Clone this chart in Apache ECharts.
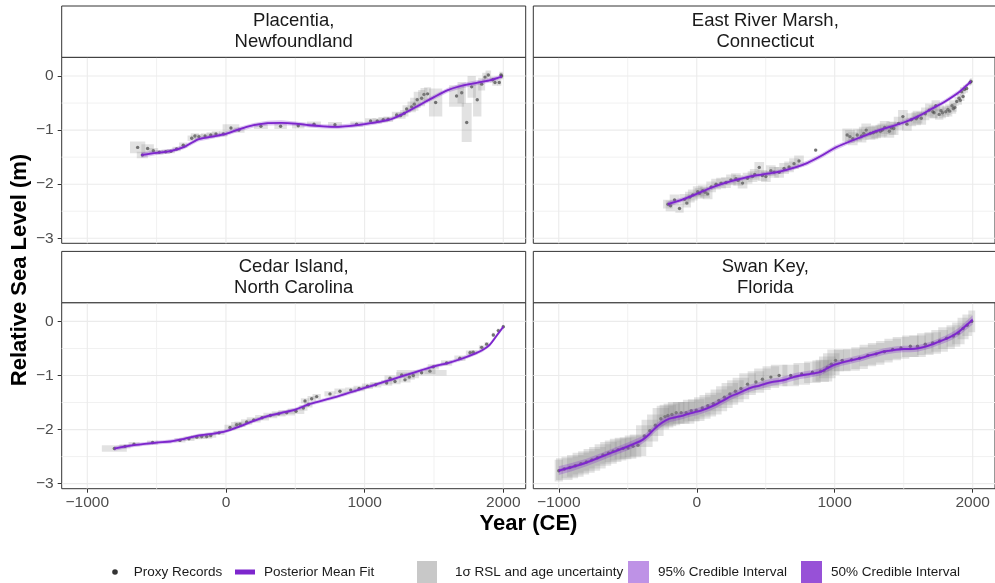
<!DOCTYPE html>
<html><head><meta charset="utf-8">
<script src="https://cdn.jsdelivr.net/npm/echarts@6/dist/echarts.min.js"></script>
<style>html,body{margin:0;padding:0;background:#fff}#c{width:995px;height:583px}</style>
</head><body><div id="c"></div><script>
// ---------------- data ----------------
const sites = ['Placentia,\nNewfoundland', 'East River Marsh,\nConnecticut', 'Cedar Island,\nNorth Carolina', 'Swan Key,\nFlorida'];
const xTicks = [-1000, 0, 1000, 2000];
const yTicks = [-3, -2, -1, 0];
const xGridMinor = [-500, 500, 1500];
const yGridMinor = [-2.5, -1.5, -0.5];
const legendNames = ['Proxy Records', 'Posterior Mean Fit', '1σ RSL and age uncertainty', '95% Credible Interval', '50% Credible Interval'];

// proxy records: [year CE, RSL (m), ±age (yr), ±RSL (m)]
const placentiaProxy = [
  [-637,-1.32,55,0.11],[-603,-1.46,40,0.06],[-565,-1.34,45,0.08],[-524,-1.38,35,0.05],[-481,-1.41,30,0.04],
  [-435,-1.40,30,0.04],[-397,-1.39,30,0.04],[-356,-1.35,30,0.04],[-308,-1.28,30,0.05],[-247,-1.15,30,0.05],
  [-224,-1.11,30,0.05],[-195,-1.12,30,0.05],[-151,-1.11,30,0.05],[-110,-1.09,30,0.05],[-72,-1.07,30,0.05],
  [-19,-1.07,30,0.05],[36,-0.96,60,0.07],[94,-1.00,40,0.05],[252,-0.93,50,0.05],[394,-0.93,45,0.05],
  [521,-0.92,45,0.05],[635,-0.89,50,0.05],[786,-0.90,50,0.05],[942,-0.89,45,0.05],[1043,-0.83,40,0.05],
  [1091,-0.83,35,0.05],[1134,-0.81,35,0.05],[1170,-0.80,35,0.05],[1231,-0.72,35,0.06],[1260,-0.73,35,0.06],
  [1286,-0.69,30,0.06],[1303,-0.61,30,0.07],[1339,-0.57,30,0.10],[1358,-0.52,30,0.12],[1379,-0.44,25,0.15],
  [1411,-0.41,25,0.15],[1428,-0.34,25,0.12],[1454,-0.33,25,0.12],[1512,-0.49,48,0.26],[1663,-0.37,54,0.20],
  [1700,-0.31,30,0.20],[1736,-0.86,36,0.36],[1772,-0.20,30,0.20],[1812,-0.44,30,0.31],[1844,-0.15,25,0.12],
  [1868,-0.02,20,0.08],[1892,0.02,20,0.08],[1923,-0.07,20,0.06],[1940,-0.12,20,0.06],[1971,-0.12,15,0.06],
  [1983,0.02,12,0.06],[1988,0.00,12,0.06]
];
const eastRiverProxy = [
  [-209,-2.37,35,0.08],[-190,-2.40,35,0.10],[-161,-2.29,35,0.10],[-125,-2.45,30,0.08],[-89,-2.28,35,0.10],
  [-72,-2.35,30,0.08],[-50,-2.24,35,0.10],[-29,-2.20,35,0.10],[7,-2.14,35,0.10],[20,-2.17,35,0.10],
  [43,-2.12,35,0.10],[60,-2.15,35,0.10],[79,-2.18,35,0.10],[104,-2.05,35,0.10],[140,-2.00,35,0.10],
  [176,-1.98,35,0.10],[212,-1.97,35,0.10],[248,-1.92,35,0.10],[284,-1.90,35,0.10],[300,-1.93,35,0.10],
  [332,-1.98,35,0.10],[368,-1.89,35,0.10],[404,-1.86,35,0.10],[420,-1.82,35,0.10],[453,-1.69,35,0.10],
  [476,-1.84,35,0.10],[501,-1.86,35,0.10],[537,-1.75,35,0.10],[560,-1.78,35,0.10],[597,-1.78,35,0.10],
  [633,-1.71,35,0.10],[669,-1.68,35,0.10],[705,-1.62,35,0.10],[741,-1.57,35,0.10],[862,-1.37,10,0.03],
  [1090,-1.09,35,0.12],[1110,-1.12,35,0.12],[1131,-1.16,35,0.12],[1163,-1.09,35,0.12],[1194,-1.11,35,0.12],
  [1210,-1.06,35,0.12],[1228,-1.00,35,0.12],[1259,-1.06,35,0.12],[1280,-1.05,35,0.12],[1300,-1.03,35,0.12],
  [1331,-1.02,35,0.12],[1345,-1.00,35,0.12],[1362,-0.95,35,0.12],[1396,-1.02,35,0.12],[1410,-0.96,35,0.12],
  [1427,-0.97,35,0.12],[1463,-0.875,35,0.12],[1494,-0.75,35,0.12],[1523,-0.89,35,0.12],[1555,-0.81,35,0.12],
  [1591,-0.79,35,0.12],[1600,-0.76,35,0.12],[1627,-0.78,35,0.12],[1656,-0.70,30,0.12],[1685,-0.63,30,0.12],
  [1711,-0.66,30,0.12],[1720,-0.68,30,0.10],[1732,-0.55,30,0.10],[1757,-0.71,30,0.10],[1770,-0.64,25,0.10],
  [1781,-0.68,25,0.10],[1805,-0.66,25,0.10],[1820,-0.62,20,0.10],[1832,-0.65,20,0.10],[1850,-0.55,20,0.10],
  [1860,-0.60,20,0.10],[1870,-0.58,15,0.08],[1884,-0.47,15,0.08],[1901,-0.41,15,0.08],[1910,-0.45,12,0.08],
  [1920,-0.29,12,0.08],[1930,-0.38,10,0.08],[1940,-0.25,10,0.08],[1956,-0.23,10,0.08],[1981,-0.12,8,0.06],
  [1988,-0.10,8,0.06]
];
const cedarProxy = [
  [-805,-2.35,90,0.06],[-728,-2.31,40,0.04],[-663,-2.27,40,0.04],[-529,-2.24,40,0.04],[-332,-2.20,40,0.04],
  [-267,-2.17,40,0.04],[-211,-2.14,40,0.04],[-175,-2.13,40,0.04],[-139,-2.13,40,0.04],[-110,-2.11,40,0.04],
  [-50,-2.06,40,0.04],[29,-1.96,40,0.05],[77,-1.91,40,0.05],[101,-1.90,40,0.05],[149,-1.86,40,0.05],
  [200,-1.82,50,0.05],[260,-1.78,50,0.05],[320,-1.74,50,0.05],[380,-1.71,50,0.05],[438,-1.69,60,0.05],
  [505,-1.66,60,0.05],[558,-1.60,30,0.05],[570,-1.47,30,0.05],[594,-1.54,30,0.05],[618,-1.43,30,0.05],
  [654,-1.39,30,0.05],[750,-1.34,40,0.05],[822,-1.29,40,0.05],[900,-1.27,40,0.05],[960,-1.24,40,0.05],
  [1020,-1.20,40,0.05],[1080,-1.17,40,0.05],[1159,-1.14,40,0.05],[1183,-1.05,40,0.05],[1219,-1.11,40,0.05],
  [1267,-0.99,40,0.05],[1291,-1.08,40,0.05],[1322,-1.03,40,0.05],[1351,-1.00,40,0.05],[1411,-0.95,180,0.05],
  [1471,-0.92,40,0.05],[1495,-0.84,40,0.05],[1591,-0.77,40,0.05],[1687,-0.68,40,0.05],[1760,-0.58,30,0.04],
  [1783,-0.57,30,0.04],[1844,-0.48,20,0.04],[1880,-0.42,15,0.04],[1928,-0.25,10,0.04],[1964,-0.17,8,0.04],
  [2000,-0.10,5,0.04]
];
const swanProxy = [
  [-1000,-2.76,30,0.20],[-960,-2.73,60,0.20],[-920,-2.70,60,0.20],[-880,-2.67,60,0.20],[-840,-2.63,60,0.20],
  [-800,-2.60,60,0.20],[-760,-2.56,60,0.20],[-720,-2.52,60,0.20],[-680,-2.47,60,0.20],[-640,-2.43,60,0.20],
  [-606,-2.40,60,0.20],[-570,-2.37,60,0.20],[-534,-2.35,60,0.20],[-498,-2.34,60,0.20],[-462,-2.31,60,0.20],
  [-426,-2.29,60,0.20],[-380,-2.12,60,0.20],[-340,-2.02,60,0.20],[-300,-1.92,60,0.20],[-260,-1.80,60,0.20],
  [-230,-1.76,60,0.20],[-209,-1.74,60,0.20],[-180,-1.72,60,0.20],[-149,-1.69,60,0.20],[-113,-1.69,60,0.20],
  [-77,-1.69,60,0.20],[-40,-1.65,60,0.20],[-4,-1.64,60,0.20],[40,-1.60,60,0.20],[80,-1.56,60,0.20],
  [120,-1.52,60,0.20],[160,-1.46,60,0.20],[200,-1.40,60,0.20],[240,-1.34,60,0.20],[280,-1.29,60,0.20],
  [320,-1.24,60,0.20],[368,-1.16,60,0.20],[429,-1.12,60,0.20],[476,-1.07,60,0.20],[537,-1.03,60,0.20],
  [597,-1.00,60,0.20],[681,-1.00,60,0.20],[761,-0.97,60,0.20],[838,-0.94,60,0.20],[898,-0.92,60,0.20],
  [922,-0.91,60,0.20],[946,-0.85,60,0.20],[975,-0.79,60,0.20],[1006,-0.72,60,0.20],[1054,-0.72,60,0.20],
  [1122,-0.71,60,0.20],[1180,-0.68,60,0.20],[1240,-0.63,60,0.20],[1300,-0.60,60,0.20],[1360,-0.56,60,0.20],
  [1420,-0.52,60,0.20],[1480,-0.49,60,0.20],[1548,-0.46,60,0.20],[1600,-0.46,60,0.20],[1656,-0.42,60,0.20],
  [1710,-0.40,60,0.20],[1760,-0.36,60,0.20],[1810,-0.31,60,0.20],[1860,-0.27,50,0.20],[1896,-0.22,45,0.20],
  [1930,-0.13,40,0.20],[1960,-0.07,35,0.20],[1993,0.00,25,0.20]
];

// posterior fit: [year CE, mean RSL (m), 95% half-width, 50% half-width]
const placentiaFit = [
  [-610,-1.46,0.05,0.02],[-500,-1.42,0.04,0.015],[-400,-1.39,0.04,0.015],[-300,-1.31,0.04,0.015],
  [-200,-1.17,0.04,0.015],[-100,-1.12,0.04,0.015],[0,-1.07,0.04,0.015],[100,-0.98,0.04,0.015],
  [200,-0.91,0.04,0.015],[300,-0.87,0.045,0.017],[400,-0.865,0.045,0.017],[500,-0.88,0.04,0.015],
  [600,-0.91,0.04,0.015],[700,-0.93,0.04,0.015],[800,-0.94,0.04,0.015],[900,-0.92,0.04,0.015],
  [1000,-0.89,0.04,0.015],[1100,-0.85,0.035,0.015],[1200,-0.79,0.035,0.015],[1300,-0.67,0.035,0.015],
  [1400,-0.53,0.04,0.015],[1500,-0.39,0.045,0.017],[1600,-0.26,0.045,0.017],[1700,-0.18,0.045,0.017],
  [1800,-0.13,0.045,0.017],[1900,-0.08,0.04,0.015],[1990,-0.01,0.04,0.015]
];
const eastRiverFit = [
  [-210,-2.37,0.05,0.02],[-100,-2.28,0.04,0.015],[0,-2.18,0.04,0.015],[100,-2.07,0.04,0.015],
  [200,-1.98,0.04,0.015],[300,-1.91,0.04,0.015],[400,-1.85,0.04,0.015],[500,-1.81,0.04,0.015],
  [600,-1.77,0.04,0.015],[700,-1.70,0.04,0.015],[800,-1.61,0.045,0.017],[900,-1.48,0.045,0.017],
  [1000,-1.33,0.045,0.017],[1100,-1.22,0.04,0.015],[1200,-1.12,0.04,0.015],[1300,-1.02,0.04,0.015],
  [1400,-0.94,0.04,0.015],[1500,-0.86,0.04,0.015],[1600,-0.75,0.04,0.015],[1700,-0.61,0.04,0.015],
  [1800,-0.47,0.04,0.015],[1900,-0.30,0.04,0.015],[1988,-0.10,0.04,0.015]
];
const cedarFit = [
  [-805,-2.35,0.04,0.015],[-700,-2.30,0.035,0.013],[-600,-2.27,0.035,0.013],[-500,-2.24,0.035,0.013],
  [-400,-2.22,0.035,0.013],[-300,-2.17,0.035,0.013],[-200,-2.11,0.035,0.013],[-100,-2.08,0.035,0.013],
  [0,-2.03,0.035,0.013],[100,-1.94,0.035,0.013],[200,-1.84,0.035,0.013],[300,-1.75,0.035,0.013],
  [400,-1.69,0.035,0.013],[500,-1.63,0.035,0.013],[600,-1.53,0.035,0.013],[700,-1.46,0.035,0.013],
  [800,-1.39,0.035,0.013],[900,-1.31,0.035,0.013],[1000,-1.23,0.035,0.013],[1100,-1.15,0.035,0.013],
  [1200,-1.07,0.035,0.013],[1300,-0.99,0.035,0.013],[1400,-0.91,0.035,0.013],[1500,-0.83,0.035,0.013],
  [1600,-0.77,0.035,0.013],[1700,-0.69,0.035,0.013],[1800,-0.59,0.035,0.013],[1850,-0.53,0.035,0.013],
  [1900,-0.44,0.035,0.013],[1950,-0.27,0.035,0.013],[2000,-0.10,0.04,0.015]
];
const swanFit = [
  [-1000,-2.76,0.08,0.03],[-900,-2.69,0.075,0.03],[-800,-2.61,0.07,0.028],[-700,-2.51,0.07,0.028],
  [-600,-2.41,0.07,0.028],[-500,-2.31,0.07,0.028],[-400,-2.20,0.07,0.028],[-350,-2.10,0.07,0.028],
  [-300,-1.97,0.07,0.028],[-250,-1.87,0.07,0.028],[-200,-1.80,0.065,0.025],[-150,-1.77,0.065,0.025],
  [-100,-1.74,0.065,0.025],[-50,-1.70,0.065,0.025],[0,-1.67,0.065,0.025],[50,-1.63,0.065,0.025],
  [100,-1.58,0.065,0.025],[150,-1.52,0.065,0.025],[200,-1.45,0.065,0.025],[250,-1.38,0.065,0.025],
  [300,-1.33,0.065,0.025],[350,-1.27,0.065,0.025],[400,-1.22,0.065,0.025],[450,-1.19,0.065,0.025],
  [500,-1.15,0.065,0.025],[550,-1.12,0.065,0.025],[600,-1.10,0.065,0.025],[650,-1.07,0.065,0.025],
  [700,-1.03,0.065,0.025],[750,-1.00,0.065,0.025],[800,-0.98,0.065,0.025],[850,-0.96,0.065,0.025],
  [900,-0.93,0.065,0.025],[950,-0.86,0.065,0.025],[1000,-0.80,0.06,0.025],[1050,-0.76,0.06,0.025],
  [1100,-0.73,0.06,0.025],[1150,-0.70,0.06,0.025],[1200,-0.67,0.06,0.025],[1250,-0.63,0.06,0.025],
  [1300,-0.60,0.06,0.025],[1350,-0.56,0.06,0.025],[1400,-0.54,0.06,0.025],[1450,-0.52,0.06,0.025],
  [1500,-0.51,0.06,0.025],[1550,-0.51,0.06,0.025],[1600,-0.50,0.06,0.025],[1650,-0.47,0.06,0.025],
  [1700,-0.43,0.06,0.025],[1750,-0.38,0.06,0.025],[1800,-0.33,0.065,0.025],[1850,-0.27,0.07,0.028],
  [1900,-0.19,0.075,0.03],[1950,-0.08,0.08,0.03],[2000,0.03,0.085,0.032]
];

// ---------------- chart ----------------
const FONT = '"Liberation Sans", Arial, Helvetica, sans-serif';
const PURPLE = '#7D26CD';
const panels = [
  {proxy: placentiaProxy, fit: placentiaFit},
  {proxy: eastRiverProxy, fit: eastRiverFit},
  {proxy: cedarProxy, fit: cedarFit},
  {proxy: swanProxy, fit: swanFit}
];
const PW = 464, PH = 186, STRIP = 51.3;
const panelPos = [[61.7, 57.3], [533.3, 57.3], [61.7, 302.7], [533.3, 302.7]];
const XMIN = -1184.6, XMAX = 2161.5, YMIN = -3.093, YMAX = 0.346;
const fmt = v => String(v).replace('-', '\u2212');

const grid = [], xAxis = [], yAxis = [], series = [], graphic = [];
panels.forEach((p, i) => {
  const [L, T] = panelPos[i];
  const bottomRow = i >= 2, leftCol = i % 2 === 0;
  grid.push({left: L, top: T, width: PW, height: PH, show: true, backgroundColor: '#fff', borderColor: '#333', borderWidth: 1, containLabel: false});
  xAxis.push({type: 'value', gridIndex: i, min: XMIN, max: XMAX, position: 'bottom',
    axisLine: {show: false, onZero: false}, splitLine: {show: false},
    axisTick: {show: bottomRow, customValues: xTicks, length: 4, lineStyle: {color: '#333'}},
    axisLabel: {show: bottomRow, customValues: xTicks, formatter: fmt, color: '#4D4D4D', fontSize: 15.5, fontFamily: FONT, margin: 6}});
  yAxis.push({type: 'value', gridIndex: i, min: YMIN, max: YMAX, position: 'left',
    axisLine: {show: false, onZero: false}, splitLine: {show: false},
    axisTick: {show: leftCol, customValues: yTicks, length: 4, lineStyle: {color: '#333'}},
    axisLabel: {show: leftCol, customValues: yTicks, formatter: fmt, color: '#4D4D4D', fontSize: 15.5, fontFamily: FONT, margin: 8}});

  // background grid lines
  series.push({type: 'custom', xAxisIndex: i, yAxisIndex: i, z: 0, silent: true, data: [[0, 0]],
    renderItem: (params, api) => {
      const cs = params.coordSys, ch = [];
      const vx = (v, major) => { const x = api.coord([v, 0])[0]; ch.push({type: 'line', shape: {x1: x, y1: cs.y, x2: x, y2: cs.y + cs.height}, style: {stroke: major ? '#EBEBEB' : '#F1F1F1', lineWidth: major ? 1.1 : 1}}); };
      const hy = (v, major) => { const y = api.coord([0, v])[1]; ch.push({type: 'line', shape: {x1: cs.x, y1: y, x2: cs.x + cs.width, y2: y}, style: {stroke: major ? '#EBEBEB' : '#F1F1F1', lineWidth: major ? 1.1 : 1}}); };
      xGridMinor.forEach(v => vx(v, false)); yGridMinor.forEach(v => hy(v, false));
      xTicks.forEach(v => vx(v, true)); yTicks.forEach(v => hy(v, true));
      return {type: 'group', children: ch};
    }});
  // proxy points
  series.push({type: 'scatter', name: legendNames[0], xAxisIndex: i, yAxisIndex: i, z: 1, silent: true,
    data: p.proxy.map(d => [d[0], d[1]]), symbolSize: 3.4, itemStyle: {color: 'rgba(0,0,0,0.72)'}});
  // uncertainty boxes (drawn over the points)
  series.push({type: 'custom', name: legendNames[2], xAxisIndex: i, yAxisIndex: i, z: 2, silent: true, clip: true,
    data: p.proxy, encode: {x: 0, y: 1},
    itemStyle: {color: '#C8C8C8'},
    renderItem: (params, api) => {
      const x = api.value(0), y = api.value(1), dx = api.value(2), dy = api.value(3);
      const a = api.coord([x - dx, y + dy]), b = api.coord([x + dx, y - dy]);
      return {type: 'rect', shape: {x: a[0], y: a[1], width: b[0] - a[0], height: b[1] - a[1]}, style: {fill: 'rgba(135,135,135,0.24)'}};
    }});
  // credible intervals
  [[2, legendNames[3], 'rgba(125,38,205,0.28)', 3], [3, legendNames[4], 'rgba(125,38,205,0.3)', 4]].forEach(([k, name, col, z]) => {
    series.push({type: 'custom', name, xAxisIndex: i, yAxisIndex: i, z, silent: true, data: [[p.fit[0][0], p.fit[0][1]]],
      itemStyle: {color: col},
      renderItem: (params, api) => {
        const up = p.fit.map(f => api.coord([f[0], f[1] + f[k]]));
        const lo = p.fit.map(f => api.coord([f[0], f[1] - f[k]])).reverse();
        return {type: 'polygon', shape: {points: up.concat(lo)}, style: {fill: col}};
      }});
  });
  // posterior mean
  series.push({type: 'line', name: legendNames[1], xAxisIndex: i, yAxisIndex: i, z: 5, silent: true,
    data: p.fit.map(f => [f[0], f[1]]), showSymbol: false, smooth: 0.3,
    lineStyle: {color: PURPLE, width: 1.8}, itemStyle: {color: PURPLE}});

  // facet strip
  graphic.push({type: 'rect', shape: {x: L, y: T - STRIP, width: PW, height: STRIP}, style: {fill: '#fff', stroke: '#333', lineWidth: 1}, z: 10});
  graphic.push({type: 'text', x: L + PW / 2, y: T - STRIP / 2, z: 11,
    style: {text: sites[i], align: 'center', verticalAlign: 'middle', fontSize: 18.5, fontFamily: FONT, fill: '#1A1A1A', lineHeight: 21}});
});

graphic.push({type: 'text', x: 20, y: 270, rotation: Math.PI / 2,
  style: {text: 'Relative Sea Level (m)', align: 'center', verticalAlign: 'middle', fontSize: 22, fontWeight: 'bold', fontFamily: FONT, fill: '#000'}});
graphic.push({type: 'text', x: 528.5, y: 524,
  style: {text: 'Year (CE)', align: 'center', verticalAlign: 'middle', fontSize: 22, fontWeight: 'bold', fontFamily: FONT, fill: '#000'}});

const legText = {fontSize: 13.5, fontFamily: FONT, color: '#1A1A1A'};
const legend = [
  {left: 112.2, top: 565, padding: 0, itemWidth: 5.6, itemHeight: 5.6, selectedMode: false,
   data: [{name: legendNames[0], icon: 'circle', itemStyle: {color: '#000'}}], textStyle: Object.assign({padding: [0, 0, 0, 11]}, legText)},
  {left: 235, top: 565, padding: 0, itemWidth: 20, itemHeight: 5, selectedMode: false,
   data: [{name: legendNames[1], icon: 'rect', itemStyle: {color: PURPLE}}], textStyle: Object.assign({padding: [0, 0, 0, 4]}, legText)},
  {left: 417, top: 561, padding: 0, itemWidth: 20, itemHeight: 22, selectedMode: false,
   data: [{name: legendNames[2], icon: 'rect', itemStyle: {color: '#C8C8C8'}}], textStyle: Object.assign({padding: [0, 0, 0, 13]}, legText)},
  {left: 628, top: 561, padding: 0, itemWidth: 21, itemHeight: 22, selectedMode: false,
   data: [{name: legendNames[3], icon: 'rect', itemStyle: {color: '#BE92E6'}}], textStyle: Object.assign({padding: [0, 0, 0, 4]}, legText)},
  {left: 801, top: 561, padding: 0, itemWidth: 21, itemHeight: 22, selectedMode: false,
   data: [{name: legendNames[4], icon: 'rect', itemStyle: {color: '#9751D7'}}], textStyle: Object.assign({padding: [0, 0, 0, 4]}, legText)}
];

const chart = echarts.init(document.getElementById('c'), null, {renderer: 'canvas'});
chart.setOption({animation: false, backgroundColor: '#fff', grid, xAxis, yAxis, series, graphic, legend});
</script></body></html>
